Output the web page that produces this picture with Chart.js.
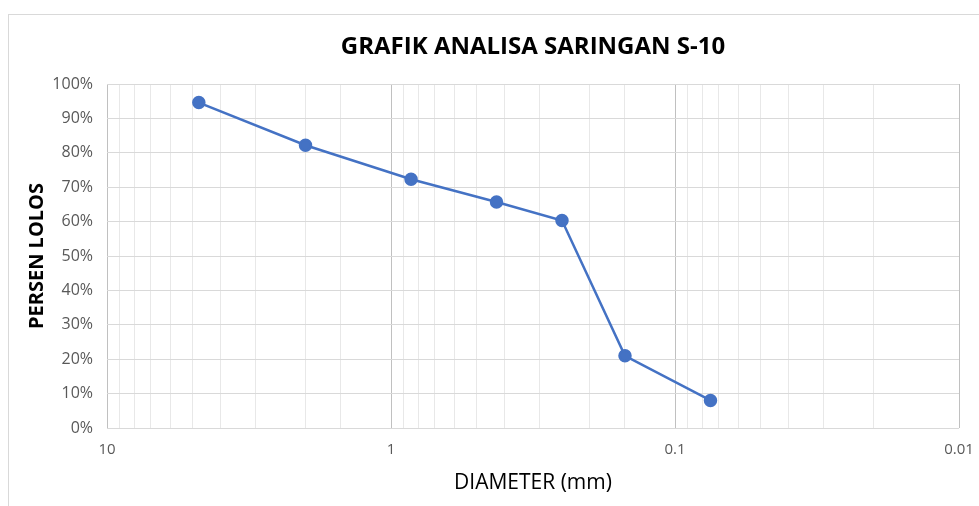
<!DOCTYPE html>
<html>
<head>
<meta charset="utf-8">
<script src="https://cdn.jsdelivr.net/npm/chart.js@4/dist/chart.umd.min.js"></script>
<style>
  body { margin: 0; background: #fff; }
  #wrap { position: relative; width: 979px; height: 506px; }
  #frame { position: absolute; left: 8px; top: 14px; right: -2px; bottom: -2px;
           border-left: 1px solid #d9d9d9; border-top: 1px solid #d9d9d9; }
  #myCanvas { position: absolute; left: 0; top: 0; }
</style>
</head>
<body>
<div id="wrap">
  <div id="frame"></div>
  <canvas id="myCanvas" width="979" height="506"></canvas>
</div>
<script>
// diameter saringan (mm) dan persen lolos
const diameter = [4.75, 2.0, 0.85, 0.425, 0.25, 0.15, 0.075];
const persenLolos = [94.6, 82.2, 72.3, 65.7, 60.3, 21.0, 8.0];
const xMin = 0.01;
const xMax = 10;
const yTicks = [0, 10, 20, 30, 40, 50, 60, 70, 80, 90, 100];

const judul = "GRAFIK ANALISA SARINGAN S-10";
const judulX = "DIAMETER (mm)";
const judulY = "PERSEN LOLOS";

const fontTeks = "'Open Sans', 'Liberation Sans', sans-serif";
const biru = "#4472C4";

let canvas = document.getElementById("myCanvas");

const esDecada = (v) => Math.abs(Math.log10(v) - Math.round(Math.log10(v))) < 1e-6;

let puntos = diameter.map((d, i) => ({ x: d, y: persenLolos[i] }));

// judul di tengah area plot (seperti Excel)
const judulTengah = {
  id: "judulTengah",
  afterDraw: (chart) => {
    const ctx = chart.ctx;
    const area = chart.chartArea;
    ctx.save();
    ctx.font = `bold 24px ${fontTeks}`;
    ctx.fillStyle = "#000";
    ctx.textAlign = "center";
    ctx.textBaseline = "middle";
    ctx.fillText(judul, (area.left + area.right) / 2, 47);
    ctx.restore();
  },
};

window.chart = new Chart(canvas, {
  type: "line",
  data: {
    datasets: [
      {
        label: "Persen Lolos",
        data: puntos,
        borderColor: biru,
        backgroundColor: biru,
        borderWidth: 2.5,
        pointRadius: 5.5,
        pointHoverRadius: 5.5,
        tension: 0,
      },
    ],
  },
  plugins: [judulTengah],
  options: {
    responsive: false,
    animation: false,
    layout: { padding: { left: 0, right: 20, top: 84, bottom: 0 } },
    plugins: {
      legend: { display: false },
      tooltip: { enabled: false },
      title: { display: false },
    },
    scales: {
      x: {
        type: "logarithmic",
        reverse: true,
        min: xMin,
        max: xMax,
        border: { display: false },
        grid: {
          drawTicks: false,
          lineWidth: 1,
          color: (ctx) => (ctx.tick && esDecada(ctx.tick.value) ? "#c0c0c0" : "#e8e8e8"),
        },
        ticks: {
          autoSkip: false,
          maxRotation: 0,
          padding: 13,
          color: "#595959",
          font: { family: fontTeks, size: 15 },
          callback: (v) => (esDecada(v) ? String(Number(v.toPrecision(3))) : ""),
        },
        title: {
          display: true,
          text: judulX,
          color: "#000",
          font: { family: fontTeks, size: 21 },
          padding: { top: 4, bottom: 10 },
        },
        afterFit: (s) => {
          s.height = 506 - 428;
          s.paddingLeft = 0;
          s.paddingRight = 0;
        },
      },
      y: {
        min: 0,
        max: 100,
        afterBuildTicks: (s) => { s.ticks = yTicks.map((v) => ({ value: v })); },
        border: { display: false },
        grid: { drawTicks: false, color: "#d9d9d9", lineWidth: 1 },
        ticks: {
          padding: 14,
          color: "#595959",
          font: { family: fontTeks, size: 16 },
          callback: (v) => v + "%",
        },
        title: {
          display: true,
          text: judulY,
          color: "#000",
          font: { family: fontTeks, size: 20, weight: "bold" },
          padding: { top: 25, bottom: 0 },
        },
        afterFit: (s) => {
          s.width = 107;
          s.paddingTop = 0;
          s.paddingBottom = 0;
        },
      },
    },
  },
});
</script>
</body>
</html>
